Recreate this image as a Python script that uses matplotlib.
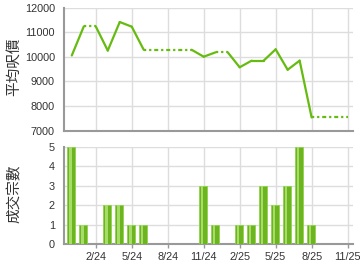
import matplotlib
matplotlib.use("Agg")
import matplotlib.pyplot as plt
import numpy as np

plt.rcParams['font.family'] = ['Liberation Sans', 'Noto Sans CJK TC', 'DejaVu Sans']

months = ["12/23", "1/24", "2/24", "3/24", "4/24", "5/24", "6/24", "7/24", "8/24",
          "9/24", "10/24", "11/24", "12/24", "1/25", "2/25", "3/25", "4/25", "5/25",
          "6/25", "7/25", "8/25", "9/25", "10/25", "11/25"]
# average price per sq ft (months without deals show the carried value)
prices = [10050, 11230, 11230, 10250, 11410, 11220, 10280, 10280, 10280,
          10280, 10280, 10000, 10180, 10180, 9570, 9840, 9840, 10300,
          9470, 9840, 7530, 7530, 7530, 7530]
deals = [5, 1, 0, 2, 2, 1, 1, 0, 0, 0, 0, 3, 1, 0, 1, 1, 3, 2, 3, 5, 1, 0, 0, 0]
tick_labels = ["2/24", "5/24", "8/24", "11/24", "2/25", "5/25", "8/25", "11/25"]

x = np.arange(len(months))
tick_pos = [months.index(t) for t in tick_labels]

fig = plt.figure(figsize=(3.6, 2.7), dpi=100)
L, R = 64 / 360, 353 / 360
ax1 = fig.add_axes([L, 1 - 130.5 / 270, R - L, (130.5 - 7.5) / 270])
ax2 = fig.add_axes([L, 1 - 244 / 270, R - L, (244 - 147) / 270])

line_c = '#66bb11'
grid_c = '#dddddd'
spine_c = '#999999'

for ax in (ax1, ax2):
    ax.set_xlim(-0.65, 23.45)
    ax.set_xticks(tick_pos)
    ax.grid(True, color=grid_c, linewidth=1.0)
    ax.set_axisbelow(True)
    for s in ('top', 'right'):
        ax.spines[s].set_visible(False)
    for s in ('left', 'bottom'):
        ax.spines[s].set_color(spine_c)
        ax.spines[s].set_linewidth(1.5)
    ax.tick_params(colors='#333333', labelsize=7.8, length=3, width=1, pad=3)
    ax.tick_params(axis='x', color=spine_c)
    ax.tick_params(axis='y', length=0, pad=6.5)

# price line
for i in range(1, len(x)):
    if deals[i] > 0:
        ax1.plot(x[i-1:i+1], prices[i-1:i+1], color=line_c, linewidth=1.6,
                 linestyle='-', solid_capstyle='round', zorder=3)
    else:
        ax1.plot(x[i-1:i+1], prices[i-1:i+1], color=line_c, linewidth=1.6,
                 linestyle=(0, (1, 1.3)), zorder=3)
ax1.set_ylim(7000, 12000)
ax1.set_yticks(range(7000, 12001, 1000))
ax1.set_xticklabels([])
ax1.tick_params(axis='x', length=0)

# deal bars with simple gradient look
w = 0.68
xb = x - 0.08
ax2.bar(xb, deals, width=w, color='#6cb520', edgecolor='#8fd24a', linewidth=0.6, zorder=3)
ax2.bar(xb - 0.06, deals, width=w * 0.35, color='#a8dc6a', linewidth=0, zorder=4)
ax2.set_ylim(0, 5)
ax2.set_yticks(range(0, 6))
ax2.set_xticklabels(tick_labels)

fig.text(14 / 360, 1 - 67 / 270, "平均呎價", family=['Noto Sans CJK TC'], fontsize=10.5,
         color='#333333', rotation=90, ha='center', va='center')
fig.text(15 / 360, 1 - 194 / 270, "成交宗數", family=['Noto Sans CJK TC'], fontsize=10.5,
         color='#333333', rotation=90, ha='center', va='center')

fig.savefig("out.png", dpi=100)
